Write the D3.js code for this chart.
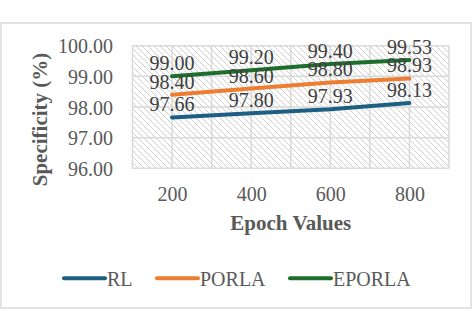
<!DOCTYPE html>
<html><head><meta charset="utf-8">
<script src="https://cdn.jsdelivr.net/npm/d3@7"></script>
<style>body{margin:0;background:#fff}svg{display:block}svg text{font-family:"Liberation Serif","Times New Roman",serif !important}</style>
</head><body>
<svg id="c" width="473" height="332"></svg>
<script>
const categories = ["200", "400", "600", "800"];
const seriesNames = ["RL", "PORLA", "EPORLA"];
const rlValues = [97.66, 97.80, 97.93, 98.13];
const porlaValues = [98.40, 98.60, 98.80, 98.93];
const eporlaValues = [99.00, 99.20, 99.40, 99.53];
const yTicks = [96, 97, 98, 99, 100];
const xTitle = "Epoch Values";
const yTitle = "Specificity (%)";

const colors = ["#1c5f83", "#ed7d31", "#1d6e2c"];
const series = [rlValues, porlaValues, eporlaValues];
const font = "Liberation Serif";

const svg = d3.select("#c");
const defs = svg.append("defs");
const pat = defs.append("pattern").attr("id","hatch").attr("patternUnits","userSpaceOnUse")
  .attr("width",6).attr("height",6);
pat.append("rect").attr("width",6).attr("height",6).attr("fill","#fff");
pat.append("path").attr("d","M-1,-1 L7,7 M-4,2 L1,7 M5,-1 L7,1").attr("stroke","#d0d0d0").attr("stroke-width",1);

svg.append("rect").attr("x",1).attr("y",23).attr("width",470).attr("height",285)
  .attr("fill","#fff").attr("stroke","#d9d9d9").attr("stroke-width",1.5);

const L = 132.5, R = 449, T = 45.7, B = 168.3;
const x = d3.scaleBand().domain(categories).range([L, R]).padding(0);
const y = d3.scaleLinear().domain([96, 100]).range([B, T]);
const cx = c => x(c) + x.bandwidth() / 2;

svg.append("rect").attr("x",L).attr("y",T).attr("width",R-L).attr("height",B-T).attr("fill","url(#hatch)");

// gridlines
const g = svg.append("g").attr("stroke","#d9d9d9").attr("stroke-width",1.5);
yTicks.forEach(t => g.append("line").attr("x1",L).attr("x2",R).attr("y1",y(t)).attr("y2",y(t)));
const vx = [];
categories.forEach(c => { vx.push(x(c)); vx.push(cx(c)); });
vx.push(R);
vx.forEach(v => g.append("line").attr("x1",v).attr("x2",v).attr("y1",T).attr("y2",B));

// y axis labels
const yAxis = d3.axisLeft(y).tickValues(yTicks).tickFormat(d3.format(".2f")).tickSize(0).tickPadding(0);
const ya = svg.append("g").attr("transform","translate(113,0)").call(yAxis);
ya.attr("font-family", font);
ya.select(".domain").remove();
ya.selectAll("text").attr("font-size",20).attr("fill","#595959")
  .attr("dy",null).attr("y",7);

// x axis labels
const xAxisScale = d3.scalePoint().domain(categories).range([cx(categories[0]), cx(categories[categories.length-1])]);
const xAxis = d3.axisBottom(xAxisScale).tickSize(0).tickPadding(0);
const xa = svg.append("g").attr("transform","translate(0,201)").call(xAxis);
xa.attr("font-family", font);
xa.select(".domain").remove();
xa.selectAll("text").attr("font-size",20).attr("fill","#595959")
  .attr("dy",null).attr("y",0);

// titles
svg.append("text").attr("x",(L+R)/2).attr("y",230).attr("text-anchor","middle")
  .attr("font-family",font).attr("font-weight","bold").attr("font-size",21).attr("fill","#595959").text(xTitle);
svg.append("text").attr("transform","translate(47,119.5) rotate(-90)").attr("text-anchor","middle")
  .attr("font-family",font).attr("font-weight","bold").attr("font-size",21).attr("fill","#595959").text(yTitle);

// lines
const line = d3.line().x((d,i) => cx(categories[i])).y(d => y(d));
series.forEach((s, k) => {
  svg.append("path").datum(s).attr("d", line).attr("fill","none")
    .attr("stroke", colors[k]).attr("stroke-width", 4).attr("stroke-linecap","round");
});
// labels
series.forEach((s, k) => {
  s.forEach((v, i) => {
    svg.append("text").attr("x", cx(categories[i])).attr("y", y(v) - 6).attr("text-anchor","middle")
      .attr("font-family",font).attr("font-size",20).attr("fill","#404040").text(v.toFixed(2));
  });
});

// legend
const legX = [63, 156, 289];
seriesNames.forEach((n, k) => {
  svg.append("line").attr("x1",legX[k]+1).attr("x2",legX[k]+42).attr("y1",278.3).attr("y2",278.3)
    .attr("stroke",colors[k]).attr("stroke-width",4).attr("stroke-linecap","round");
  svg.append("text").attr("x",legX[k]+44).attr("y",286).attr("font-family",font).attr("font-size",20)
    .attr("fill","#595959").text(n);
});
</script>
</body></html>
